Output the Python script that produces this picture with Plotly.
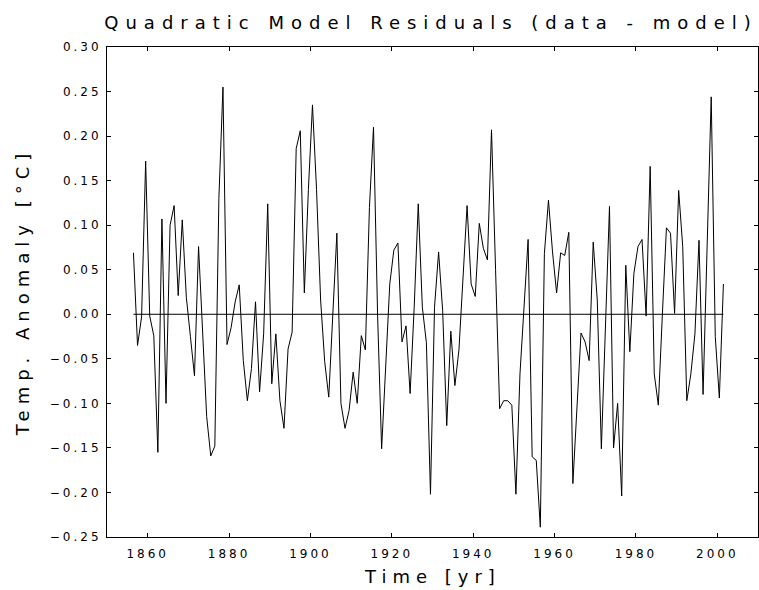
import numpy as np
import plotly.graph_objects as go

# annual residuals of the quadratic fit, 1856-2001 (plotted at mid-year)
years = np.arange(1856, 2002) + 0.5
residuals = [
    0.069, -0.035, -0.003, 0.172, -0.002, -0.024, -0.155, 0.107, -0.100, 0.100,
    0.122, 0.021, 0.106, 0.019, -0.025, -0.069, 0.076, -0.020, -0.115, -0.159,
    -0.148, 0.130, 0.255, -0.034, -0.015, 0.014, 0.033, -0.052, -0.097, -0.061,
    0.014, -0.087, -0.022, 0.124, -0.078, -0.022, -0.097, -0.128, -0.039, -0.020,
    0.186, 0.206, 0.024, 0.140, 0.235, 0.140, 0.016, -0.053, -0.093, 0.000,
    0.091, -0.100, -0.128, -0.108, -0.065, -0.100, -0.024, -0.040, 0.120, 0.210,
    0.000, -0.151, -0.052, 0.034, 0.072, 0.080, -0.031, -0.013, -0.089, 0.008,
    0.124, 0.008, -0.032, -0.202, 0.008, 0.070, 0.004, -0.125, -0.019, -0.080,
    -0.040, 0.038, 0.122, 0.034, 0.020, 0.102, 0.074, 0.061, 0.207, 0.050,
    -0.106, -0.097, -0.097, -0.102, -0.202, -0.067, 0.012, 0.084, -0.160, -0.164,
    -0.239, 0.068, 0.128, 0.070, 0.024, 0.069, 0.066, 0.092, -0.190, -0.104,
    -0.021, -0.031, -0.052, 0.081, 0.016, -0.151, -0.010, 0.121, -0.150, -0.100,
    -0.204, 0.055, -0.042, 0.046, 0.076, 0.084, -0.002, 0.166, -0.067, -0.102,
    0.000, 0.097, 0.091, 0.001, 0.139, 0.076, -0.097, -0.067, -0.022, 0.083,
    -0.090, 0.083, 0.244, -0.025, -0.094, 0.034,
]
zero_line = [0.0] * len(years)

x_ticks = [1860, 1880, 1900, 1920, 1940, 1960, 1980, 2000]
y_ticks = [-0.25, -0.20, -0.15, -0.10, -0.05, 0.00, 0.05, 0.10, 0.15, 0.20, 0.25, 0.30]

font_family = "DejaVu Sans ExtraLight, DejaVu Sans, sans-serif"

fig = go.Figure()
fig.add_scatter(x=years, y=residuals, mode="lines", line=dict(color="black", width=1), showlegend=False)
fig.add_scatter(x=years, y=zero_line, mode="lines", line=dict(color="black", width=1), showlegend=False)

axis_style = dict(showline=True, linecolor="black", linewidth=1, mirror="allticks",
                  ticks="inside", ticklen=4, tickcolor="black", showgrid=False, zeroline=False,
                  tickfont=dict(family=font_family, size=12, color="black"))

fig.update_xaxes(range=[1850, 2010], tickvals=x_ticks, ticklabelstandoff=6, **axis_style)
fig.update_yaxes(range=[-0.25, 0.30], tickvals=y_ticks, tickformat=".2f", ticklabelstandoff=2, **axis_style)

fig.update_layout(
    width=759, height=590,
    margin=dict(l=107, r=1, t=47, b=53),
    paper_bgcolor="white", plot_bgcolor="white",
    font=dict(family=font_family, color="black"),
    title=dict(text="Quadratic Model Residuals (data - model)", x=0.568, xanchor="center",
               y=0.961, yanchor="middle", font=dict(family=font_family, size=18, color="black")),
)
fig.add_annotation(text="Time [yr]", xref="paper", yref="paper", x=0.5, y=-0.08,
                   xanchor="center", yanchor="middle", showarrow=False, borderpad=0,
                   font=dict(family=font_family, size=18, color="black"))
fig.add_annotation(text="Temp. Anomaly [°C]", xref="paper", yref="paper", x=-0.13, y=0.50,
                   xanchor="center", yanchor="middle", textangle=-90, showarrow=False,
                   font=dict(family=font_family, size=18, color="black"))

# no page margin, and spaced-out lettering like the original plotting font
css = ("document.body.style.margin='0';"
       "var s=document.createElement('style');"
       "s.innerHTML='.main-svg .xtick text, .main-svg .ytick text{letter-spacing:3px}"
       " .main-svg .gtitle{letter-spacing:7px} .main-svg .annotation-text{letter-spacing:6px}';"
       "document.head.appendChild(s);")
fig.write_html("out.html", post_script=css, config={"displayModeBar": False})
